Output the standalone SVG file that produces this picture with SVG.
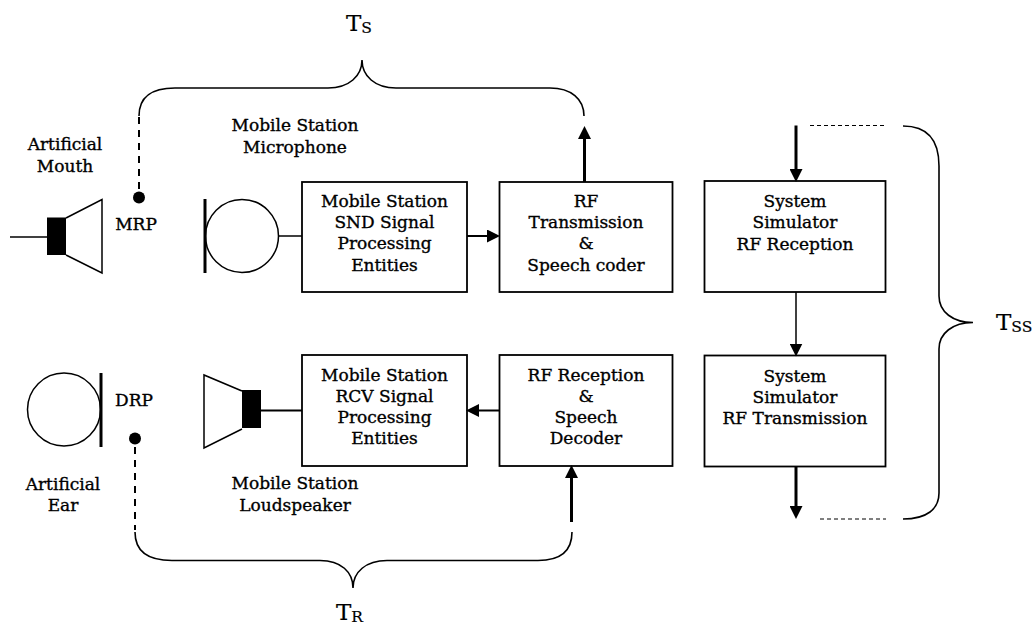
<svg xmlns="http://www.w3.org/2000/svg" width="1036" height="624" viewBox="0 0 1036 624">
<style>
text{font-family:"DejaVu Serif","Liberation Serif",serif;font-size:17px;fill:#000;stroke:#000;stroke-width:0.35;text-anchor:middle}
.big{font-size:23px;text-anchor:start;stroke-width:0.2}
.sub{font-size:15.5px}
.box{fill:#fff;stroke:#000;stroke-width:1.8}
.ln{fill:none;stroke:#000;stroke-width:1.5}
.thick{fill:none;stroke:#000;stroke-width:3}
.med{fill:none;stroke:#000;stroke-width:2}
.dash{fill:none;stroke:#000;stroke-width:2;stroke-dasharray:7 6}
.dot{fill:none;stroke:#000;stroke-width:1;stroke-dasharray:4 3}
.brace{fill:none;stroke:#000;stroke-width:1.6}
</style>
<defs>
<marker id="ah" viewBox="0 0 13 13" refX="6" refY="6.5" markerWidth="13" markerHeight="13" markerUnits="userSpaceOnUse" orient="auto">
<path d="M0,0 L13,6.5 L0,13 z" fill="#000"/>
</marker>
</defs>

<g id="artificial-mouth">
<line class="ln" x1="10" y1="237" x2="47" y2="237"/>
<rect x="47" y="217.5" width="19" height="37.5" fill="#000"/>
<path class="ln" d="M66,218 L102,199.5 L102,273 L66,255"/>
<text x="65" y="150">Artificial</text>
<text x="65" y="172">Mouth</text>
</g>

<g id="mrp">
<line class="dash" x1="139" y1="117" x2="139" y2="192"/>
<circle cx="139" cy="197.5" r="6" fill="#000"/>
<text x="136" y="230">MRP</text>
</g>

<g id="ms-microphone">
<line x1="205" y1="199" x2="205" y2="273" stroke="#000" stroke-width="3"/>
<circle class="ln" cx="242" cy="236" r="36.5"/>
<text x="295" y="131">Mobile Station</text>
<text x="295" y="153">Microphone</text>
</g>

<g id="ms-snd">
<rect class="box" x="302" y="182" width="165" height="110"/>
<text x="384.5" y="206.5">Mobile Station</text>
<text x="384.5" y="227.5">SND Signal</text>
<text x="384.5" y="249">Processing</text>
<text x="384.5" y="270.5">Entities</text>
</g>

<g id="rf-tx">
<rect class="box" x="499.5" y="182" width="173" height="110"/>
<text x="586" y="206.5">RF</text>
<text x="586" y="227.5">Transmission</text>
<text x="586" y="249">&amp;</text>
<text x="586" y="270.5">Speech coder</text>
</g>

<g id="ss-rf-rx">
<rect class="box" x="704.5" y="181" width="181" height="111"/>
<text x="795" y="207">System</text>
<text x="795" y="228">Simulator</text>
<text x="795" y="250">RF Reception</text>
</g>

<g id="ss-rf-tx">
<rect class="box" x="704.5" y="355.5" width="181" height="111"/>
<text x="795" y="381.5">System</text>
<text x="795" y="402.5">Simulator</text>
<text x="795" y="423.5">RF Transmission</text>
</g>

<g id="ms-rcv">
<rect class="box" x="302" y="355" width="165" height="111"/>
<text x="384.5" y="380.5">Mobile Station</text>
<text x="384.5" y="401.5">RCV Signal</text>
<text x="384.5" y="422.5">Processing</text>
<text x="384.5" y="443.5">Entities</text>
</g>

<g id="rf-rx">
<rect class="box" x="499.5" y="355" width="173" height="111"/>
<text x="586" y="380.5">RF Reception</text>
<text x="586" y="401.5">&amp;</text>
<text x="586" y="422.5">Speech</text>
<text x="586" y="443.5">Decoder</text>
</g>

<g id="ms-loudspeaker">
<path class="ln" d="M242,391 L204,375 L204,448 L242,429"/>
<rect x="242" y="390" width="19" height="38" fill="#000"/>
<text x="295" y="489">Mobile Station</text>
<text x="295" y="511">Loudspeaker</text>
</g>

<g id="artificial-ear">
<circle class="ln" cx="64" cy="409.5" r="36.5"/>
<line x1="101" y1="373" x2="101" y2="447" stroke="#000" stroke-width="3"/>
<text x="63" y="490">Artificial</text>
<text x="63" y="511">Ear</text>
</g>

<g id="drp">
<text x="134" y="406">DRP</text>
<circle cx="135" cy="438.5" r="6" fill="#000"/>
<line class="dash" x1="135" y1="447" x2="135" y2="530"/>
</g>

<g id="connectors">
<line class="ln" x1="278.5" y1="236" x2="302" y2="236"/>
<line class="med" x1="467" y1="236" x2="493" y2="236" marker-end="url(#ah)"/>
<line class="thick" x1="584.5" y1="182" x2="584.5" y2="133" marker-end="url(#ah)"/>
<line class="thick" x1="796" y1="125.5" x2="796" y2="175" marker-end="url(#ah)"/>
<line class="ln" x1="796" y1="292" x2="796" y2="349.5" marker-end="url(#ah)"/>
<line class="thick" x1="796" y1="466.5" x2="796" y2="512" marker-end="url(#ah)"/>
<line class="med" x1="499.5" y1="410.5" x2="473" y2="410.5" marker-end="url(#ah)"/>
<line class="med" x1="261" y1="410.5" x2="302" y2="410.5"/>
<line class="thick" x1="571.5" y1="522" x2="571.5" y2="472" marker-end="url(#ah)"/>
<line class="dot" x1="810" y1="125.5" x2="886" y2="125.5"/>
<line class="dot" x1="820" y1="519" x2="886" y2="519"/>
</g>

<g id="brace-ts">
<path class="brace" d="M139,116 C139,97 151,88 175,88 L328,88 C349,88 362,76 362,60 C362,76 375,88 396,88 L550,88 C571,88 584,99 584,116"/>
<text class="big" x="346" y="31">T<tspan class="sub" dy="1.5">S</tspan></text>
</g>

<g id="brace-tr">
<path class="brace" d="M135,532 C135,551 147,560.5 172,560.5 L320,560.5 C341,560.5 353,572 353,588 C353,572 366,560.5 387,560.5 L538,560.5 C560,560.5 572,551 572,532"/>
<text class="big" x="336" y="620">T<tspan class="sub" dy="1.5">R</tspan></text>
</g>

<g id="brace-tss">
<path class="brace" d="M903,126 C927,126 939,140 939,166 L939,296 C939,312 953,322.5 973,322.5 C953,322.5 939,333 939,349 L939,493 C939,509 927,519 903,519"/>
<text class="big" x="996" y="330">T<tspan class="sub" dy="1.5">SS</tspan></text>
</g>
</svg>
